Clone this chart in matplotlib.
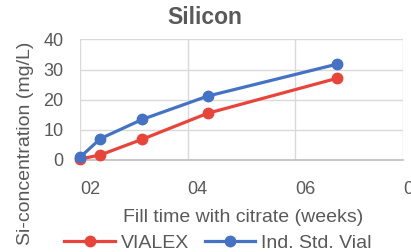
import matplotlib
matplotlib.use("Agg")
import matplotlib.pyplot as plt
from matplotlib.lines import Line2D

plt.rcParams['font.family'] = ['Liberation Sans', 'DejaVu Sans']

# data
fill_time = [0, 0.38, 1.16, 2.37, 4.77]
vialex = [0.3, 1.7, 6.9, 15.5, 27.1]
ind_std_vial = [0.9, 7.1, 13.5, 21.2, 31.8]

x_ticks = [0, 2, 4, 6]
x_tick_labels = ["02", "04", "06", "08"]
y_ticks = [0, 10, 20, 30, 40]

RED = "#E9443A"
BLUE = "#4472C4"
TXT = "#595959"

fig = plt.figure(figsize=(4.11, 2.52), dpi=100)
ax = fig.add_axes([80/411, 1-160/252, (403-80)/411, (160-39.5)/252])

ax.plot(fill_time, vialex, color=RED, lw=2.3, marker='o', ms=7.5, label="VIALEX", zorder=3, clip_on=False)
ax.plot(fill_time, ind_std_vial, color=BLUE, lw=2.3, marker='o', ms=7.5, label="Ind. Std. Vial", zorder=3, clip_on=False)

ax.set_xlim(0, 6)
ax.set_ylim(0, 40)
ax.set_xticks(x_ticks)
ax.set_xticklabels(x_tick_labels, ha='left')
ax.set_yticks(y_ticks)
ax.tick_params(length=0, labelsize=13, colors=TXT)
ax.tick_params(axis='x', pad=15)
ax.tick_params(axis='y', pad=12)
ax.grid(True, color="#d9d9d9", lw=1)
ax.set_axisbelow(True)
for s in ['top', 'right', 'left']:
    ax.spines[s].set_visible(False)
ax.spines['bottom'].set_color("#bfbfbf")
ax.spines['bottom'].set_linewidth(1.2)

fig.text(205/411, 1-18/252, "Silicon", ha='center', va='center', fontsize=16.5, fontweight='bold', color=TXT)
fig.text(243/411, 1-218/252, "Fill time with citrate (weeks)", ha='center', va='center', fontsize=14, color=TXT)
fig.text(26/411, 1-143/252, "Si-concentration (mg/L)", ha='center', va='center', rotation=90, fontsize=14, color=TXT)

handles = [Line2D([], [], color=RED, lw=2.3, marker='o', ms=7.5),
           Line2D([], [], color=BLUE, lw=2.3, marker='o', ms=7.5)]
fig.legend(handles, ["VIALEX", "Ind. Std. Vial"], loc='center', bbox_to_anchor=(218/411, 1-243/252),
           ncol=2, frameon=False, fontsize=14, labelcolor=TXT, handlelength=2.6,
           handletextpad=0.3, columnspacing=0.8, borderpad=0)

fig.savefig("out.png", dpi=100)
